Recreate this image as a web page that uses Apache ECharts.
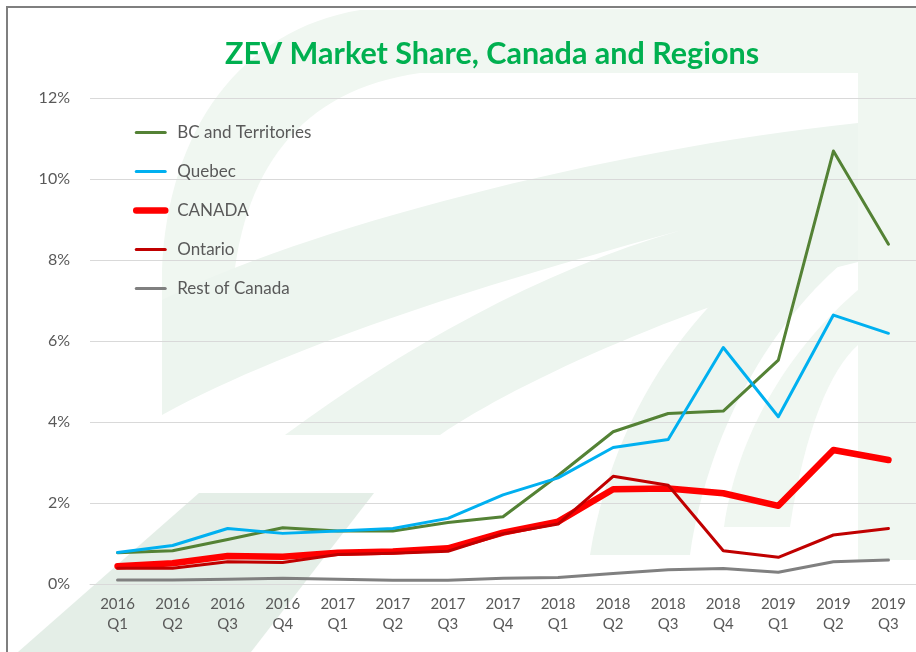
<!DOCTYPE html>
<html>
<head>
<meta charset="utf-8">
<title>ZEV Market Share</title>
<script src="https://cdn.jsdelivr.net/npm/echarts@6/dist/echarts.min.js"></script>
<style>
  html, body { margin: 0; padding: 0; background: #fff; }
  #chart { width: 916px; height: 652px; }
</style>
</head>
<body>
<div id="chart"></div>
<script>
const quarters = ['2016\nQ1', '2016\nQ2', '2016\nQ3', '2016\nQ4', '2017\nQ1', '2017\nQ2', '2017\nQ3', '2017\nQ4',
  '2018\nQ1', '2018\nQ2', '2018\nQ3', '2018\nQ4', '2019\nQ1', '2019\nQ2', '2019\nQ3']

// market share, %
const bcTerritories = [0.77, 0.82, 1.10, 1.39, 1.31, 1.31, 1.52, 1.66, 2.68, 3.76, 4.21, 4.27, 5.53, 10.69, 8.39]
const quebec = [0.78, 0.95, 1.37, 1.25, 1.31, 1.37, 1.62, 2.20, 2.62, 3.37, 3.57, 5.84, 4.13, 6.64, 6.19]
const canada = [0.44, 0.51, 0.69, 0.67, 0.77, 0.80, 0.88, 1.27, 1.54, 2.34, 2.36, 2.24, 1.93, 3.31, 3.06]
const ontario = [0.39, 0.39, 0.55, 0.53, 0.73, 0.76, 0.81, 1.24, 1.48, 2.66, 2.44, 0.82, 0.66, 1.21, 1.37]
const restOfCanada = [0.10, 0.10, 0.12, 0.14, 0.12, 0.09, 0.09, 0.14, 0.16, 0.26, 0.35, 0.38, 0.29, 0.55, 0.59]

const font = 'Lato, "Open Sans", sans-serif'
const grey = '#595959'

const chart = echarts.init(document.getElementById('chart'))

const line = (name, data, color, width) => ({
  name,
  type: 'line',
  data,
  symbol: 'none',
  lineStyle: { color, width, cap: 'round', join: 'round' },
  itemStyle: { color },
  emphasis: { disabled: true }
})

// faint logo shapes behind the plot
const backdrop = [
  ['M162,415 L162,270 C168,130 240,30 360,10 L916,8 L916,73 L420,73 C300,90 240,170 232,300 Z', '#f0f7f1'],
  ['M162,300 C300,230 600,150 858,123 L858,262 C700,300 520,380 440,435 L285,435 C400,350 540,270 682,230 C500,280 300,340 162,415 Z', '#edf5ef'],
  ['M590,555 L690,555 C710,420 780,310 858,250 L858,190 C720,270 620,380 590,555 Z', '#edf5ef'],
  ['M858,73 L916,73 L916,560 L858,560 Z', '#f0f7f1'],
  ['M724,527 L790,527 C805,430 830,370 858,345 L858,290 C800,340 740,420 724,527 Z', '#f0f7f1']
].map(([d, fill], i) => {
  echarts.graphic.registerShape('wash' + i, echarts.graphic.extendPath(d))
  return { type: 'wash' + i, z: -10, silent: true, style: { fill } }
})

const option = {
  backgroundColor: '#fff',
  animation: false,
  textStyle: { fontFamily: font },
  title: {
    text: 'ZEV Market Share, Canada and Regions',
    left: 220,
    top: 34,
    textStyle: { color: '#00b050', fontSize: 30.5, fontWeight: 'bold', fontFamily: font }
  },
  graphic: [
    ...backdrop,
    { type: 'polygon', z: -10, silent: true,
      shape: { points: [[199, 493], [374, 493], [251, 652], [18, 652]] },
      style: { fill: '#e4eee7' } },
    { type: 'rect', z: 100, silent: true,
      shape: { x: 7, y: 7, width: 1000, height: 800 },
      style: { fill: 'none', stroke: '#7f7f7f', lineWidth: 2 } }
  ],
  legend: {
    orient: 'vertical',
    left: 133,
    top: 124,
    padding: 0,
    itemWidth: 29,
    itemHeight: 14,
    itemGap: 22,
    selectedMode: false,
    itemStyle: { opacity: 0 },
    lineStyle: { width: 'inherit' },
    textStyle: { color: grey, fontSize: 17, lineHeight: 17, padding: [0, 0, 0, 7] }
  },
  grid: { left: 90, right: 0, top: 98, bottom: 68 },
  xAxis: {
    type: 'category',
    data: quarters,
    axisLine: { lineStyle: { color: '#d9d9d9' } },
    axisTick: { show: false },
    axisLabel: { color: grey, fontSize: 15, lineHeight: 20, margin: 10, interval: 0 }
  },
  yAxis: {
    type: 'value',
    min: 0,
    max: 12,
    interval: 2,
    axisLine: { show: false },
    axisTick: { show: false },
    axisLabel: { color: grey, fontSize: 16, margin: 20, formatter: '{value}%' },
    splitLine: { lineStyle: { color: '#d9d9d9', width: 1 } }
  },
  series: [
    line('BC and Territories', bcTerritories, '#548235', 3),
    line('Quebec', quebec, '#00b0f0', 3),
    line('CANADA', canada, '#ff0000', 6.5),
    line('Ontario', ontario, '#c00000', 3),
    line('Rest of Canada', restOfCanada, '#808080', 3)
  ]
}

chart.setOption(option)
</script>
</body>
</html>
